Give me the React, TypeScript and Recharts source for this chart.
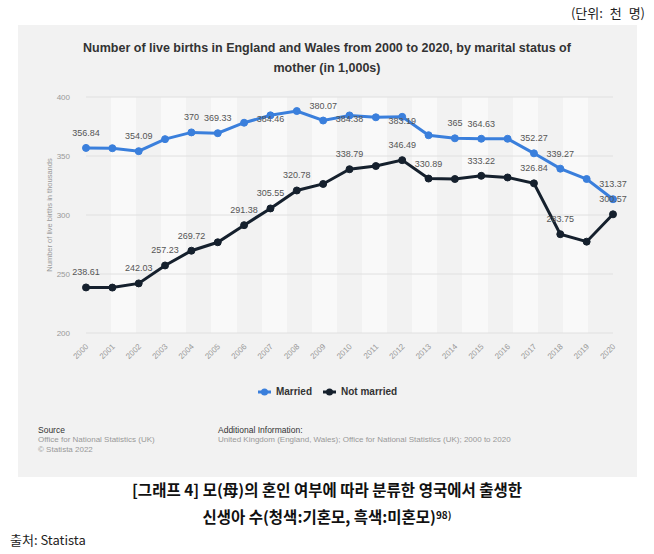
import React from "react";
import { LineChart, Line, XAxis, YAxis, CartesianGrid, LabelList } from "recharts";

const years = [
  "2000", "2001", "2002", "2003", "2004", "2005", "2006", "2007", "2008", "2009", "2010",
  "2011", "2012", "2013", "2014", "2015", "2016", "2017", "2018", "2019", "2020",
];

const married = [
  356.84, 356.6, 354.09, 364.3, 370, 369.33, 378.2, 384.46, 388.1, 380.07, 384.38,
  382.8, 383.19, 367.6, 365, 364.63, 364.6, 352.27, 339.27, 330.5, 313.37,
];

const notMarried = [
  238.61, 238.5, 242.03, 257.23, 269.72, 276.9, 291.38, 305.55, 320.78, 326.3, 338.79,
  341.5, 346.49, 330.89, 330.5, 333.22, 331.8, 326.84, 283.75, 277.4, 300.57,
];

// years whose value is printed next to the point
const marriedLabelYears = ["2000", "2002", "2004", "2005", "2007", "2009", "2010", "2012", "2014", "2015", "2017", "2018", "2020"];
const notMarriedLabelYears = ["2000", "2002", "2003", "2004", "2006", "2007", "2008", "2010", "2012", "2013", "2015", "2017", "2018", "2020"];

const yTicks = [200, 250, 300, 350, 400];

const data = years.map((year, i) => ({ year, married: married[i], notMarried: notMarried[i] }));

const BLUE = "#3a7fdc";
const NAVY = "#15202d";
const FONT = "'Liberation Sans', Arial, sans-serif";
const KFONT = "'Noto Sans CJK KR', sans-serif";

const W = 654;
const H = 420;
const MARGIN = { top: 97, right: 41, bottom: 47, left: 46 };
const Y_AXIS_W = 40;
const PLOT_LEFT = MARGIN.left + Y_AXIS_W;
const PLOT_W = W - PLOT_LEFT - MARGIN.right;

// band edges of the category axis, used for the alternating column shading
const bandEdges = years.map((_, i) => PLOT_LEFT + (i * PLOT_W) / years.length);

const makeLabel = (shown: string[]) => (props: any) => {
  const { x, y, value, index } = props;
  if (!shown.includes(years[index])) return null;
  const ty = y - 12 < MARGIN.top + 8 ? y + 7 : y - 12;
  return (
    <text x={x} y={ty} textAnchor="middle" fontSize={9} fill="#555" fontFamily={FONT}>
      {value}
    </text>
  );
};

const XTick = ({ x, y, payload }: any) => (
  <text
    x={x + 3}
    y={y + 6}
    transform={`rotate(-45 ${x + 3} ${y + 6})`}
    textAnchor="end"
    fontSize={8}
    fill="#999"
    fontFamily={FONT}
  >
    {payload.value}
  </text>
);

const LegendIcon = ({ color }: { color: string }) => (
  <svg width={15} height={10} style={{ marginRight: 4 }}>
    <line x1={1} y1={5} x2={14} y2={5} stroke={color} strokeWidth={3} />
    <circle cx={7.5} cy={5} r={3.5} fill={color} />
  </svg>
);

export default function App() {
  return (
    <div style={{ position: "absolute", left: 0, top: 0, width: 654, height: 554, background: "#fff", fontFamily: FONT }}>
      <div
        style={{
          position: "absolute", right: 9, top: 3, fontFamily: KFONT, fontSize: 13,
          color: "#222", wordSpacing: 4,
        }}
      >
        (단위: 천 명)
      </div>

      <div style={{ position: "absolute", left: 18, top: 25, width: 619, height: 452, background: "#f2f2f2" }} />

      <div
        style={{
          position: "absolute", left: 0, top: 38, width: 654, textAlign: "center",
          fontSize: 12.5, fontWeight: "bold", color: "#333", lineHeight: "20px",
        }}
      >
        Number of live births in England and Wales from 2000 to 2020, by marital status of
        <br />
        mother (in 1,000s)
      </div>

      <div style={{ position: "absolute", left: 0, top: 0 }}>
        <LineChart width={W} height={H} data={data} margin={MARGIN}>
          <CartesianGrid
            horizontal={false}
            vertical={true}
            stroke="none"
            verticalPoints={bandEdges}
            verticalFill={["#f2f2f2", "#f9f9f9"]}
          />
          <CartesianGrid vertical={false} stroke="#e0e0e0" />
          <XAxis
            dataKey="year"
            axisLine={false}
            tickLine={false}
            interval={0}
            height={40}
            tick={XTick}
          />
          <YAxis
            domain={[200, 400]}
            ticks={yTicks}
            axisLine={false}
            tickLine={false}
            width={Y_AXIS_W}
            tickMargin={10}
            tick={{ fontSize: 8, fill: "#999", fontFamily: FONT }}
            label={() => (
              <text
                x={52}
                y={215}
                transform="rotate(-90 52 215)"
                textAnchor="middle"
                fontSize={7.5}
                fill="#999"
                fontFamily={FONT}
              >
                Number of live births in thousands
              </text>
            )}
          />
          <Line
            dataKey="married"
            name="Married"
            stroke={BLUE}
            strokeWidth={3}
            dot={{ r: 3.5, fill: BLUE, stroke: BLUE, strokeWidth: 1 }}
            isAnimationActive={false}
          >
            <LabelList dataKey="married" content={makeLabel(marriedLabelYears)} />
          </Line>
          <Line
            dataKey="notMarried"
            name="Not married"
            stroke={NAVY}
            strokeWidth={3}
            dot={{ r: 3.5, fill: NAVY, stroke: NAVY, strokeWidth: 1 }}
            isAnimationActive={false}
          >
            <LabelList dataKey="notMarried" content={makeLabel(notMarriedLabelYears)} />
          </Line>
        </LineChart>
      </div>

      <div
        style={{
          position: "absolute", left: 0, top: 386, width: 654, display: "flex", justifyContent: "center",
          alignItems: "center", fontSize: 10, fontWeight: "bold", color: "#333",
        }}
      >
        <span style={{ display: "flex", alignItems: "center", marginRight: 10 }}>
          <LegendIcon color={BLUE} />
          Married
        </span>
        <span style={{ display: "flex", alignItems: "center" }}>
          <LegendIcon color={NAVY} />
          Not married
        </span>
      </div>

      <div style={{ position: "absolute", left: 38, top: 425, fontSize: 8, lineHeight: "10px", color: "#999" }}>
        <div style={{ color: "#333", fontSize: 8.5 }}>Source</div>
        <div>Office for National Statistics (UK)</div>
        <div>© Statista 2022</div>
      </div>
      <div style={{ position: "absolute", left: 218, top: 425, fontSize: 8, lineHeight: "10px", color: "#999" }}>
        <div style={{ color: "#333", fontSize: 8.5 }}>Additional Information:</div>
        <div>United Kingdom (England, Wales); Office for National Statistics (UK); 2000 to 2020</div>
      </div>

      <div
        style={{
          position: "absolute", left: 0, top: 477, width: 654, textAlign: "center",
          fontFamily: KFONT, fontWeight: "bold", fontSize: 15.5, lineHeight: "25px", color: "#111",
        }}
      >
        [그래프 4] 모(母)의 혼인 여부에 따라 분류한 영국에서 출생한
        <br />
        신생아 수(청색:기혼모, 흑색:미혼모)<sup style={{ fontSize: 10, verticalAlign: "4px" }}>98)</sup>
      </div>

      <div style={{ position: "absolute", left: 10, top: 530, fontFamily: KFONT, fontSize: 13, color: "#222" }}>
        출처: Statista
      </div>
    </div>
  );
}
